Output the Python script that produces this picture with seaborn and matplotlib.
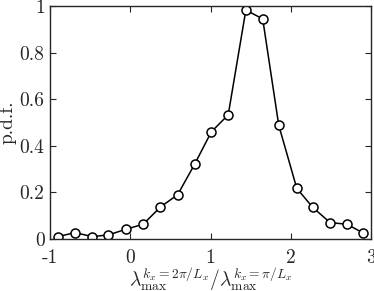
import pandas as pd
import matplotlib
matplotlib.use("Agg")
import matplotlib.pyplot as plt
import seaborn as sns

# ratio of wavelengths and its pdf
ratio = [-0.90, -0.69, -0.475, -0.275, -0.05, 0.16, 0.375, 0.59, 0.80, 1.01,
         1.22, 1.44, 1.65, 1.85, 2.075, 2.275, 2.49, 2.70, 2.90]
pdf = [0.010, 0.027, 0.010, 0.017, 0.042, 0.063, 0.137, 0.19, 0.32, 0.46,
       0.533, 0.983, 0.945, 0.488, 0.217, 0.135, 0.07, 0.063, 0.026]

df = pd.DataFrame({"ratio": ratio, "pdf": pdf})

sns.set_style("ticks")
plt.rcParams["font.family"] = ["cmr10", "DejaVu Serif"]
plt.rcParams["mathtext.fontset"] = "cm"
plt.rcParams["axes.unicode_minus"] = False
plt.rcParams["axes.formatter.use_mathtext"] = True

fig = plt.figure(figsize=(3.74, 2.91), dpi=100)
ax = fig.add_axes([0.134, 0.179, 0.858, 0.80])

sns.lineplot(data=df, x="ratio", y="pdf", ax=ax, color="black", linewidth=1.1,
             marker="o", markersize=6.5, markerfacecolor="white",
             markeredgecolor="black", markeredgewidth=1.1)

ax.set_xlim(-1, 3)
ax.set_ylim(0, 1)
ax.set_xticks([-1, 0, 1, 2, 3])
ax.set_xticklabels(["-1", "0", "1", "2", "3"])
ax.set_yticks([0, 0.2, 0.4, 0.6, 0.8, 1])
ax.set_yticklabels(["0", "0.2", "0.4", "0.6", "0.8", "1"])
ax.tick_params(direction="in", length=4, width=0.8, top=True, right=True,
               labelsize=14)
ax.tick_params(axis="x", pad=7)
ax.tick_params(axis="y", pad=4)
for s in ax.spines.values():
    s.set_linewidth(1.0)
    s.set_color("#262626")

ax.set_xlabel(r"$\lambda_{\max}^{k_x=2\pi/L_x}/\lambda_{\max}^{k_x=\pi/L_x}$",
              fontsize=14, labelpad=-1)
ax.set_ylabel("p.d.f.", fontsize=14, labelpad=2)

fig.savefig("out.png", dpi=100)
